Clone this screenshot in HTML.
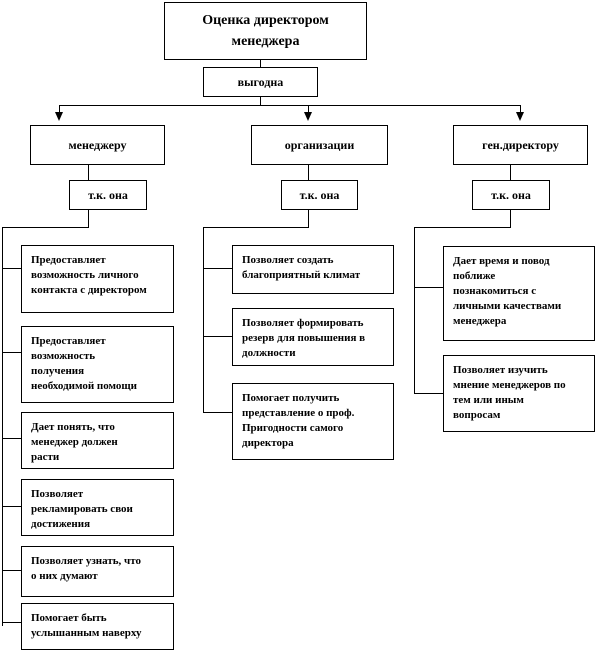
<!DOCTYPE html>
<html><head><meta charset="utf-8"><style>
body{margin:0;width:600px;height:654px;background:#fff;position:relative;overflow:hidden;font-family:"Liberation Serif","DejaVu Serif",serif;font-weight:bold;color:#000}
.b{position:absolute;border:1px solid #000;box-sizing:border-box;background:#fff}
.c{display:flex;align-items:center;justify-content:center;text-align:center}
.t{font-size:11px;line-height:15px;padding:7px 0 0 9px}
.h{position:absolute;background:#000;height:1px}
.v{position:absolute;background:#000;width:1px}
.a{position:absolute;width:0;height:0;border-left:4px solid transparent;border-right:4px solid transparent;border-top:9px solid #000}
</style></head><body>
<div class="b c" style="left:164px;top:2px;width:203px;height:58px;font-size:14px;line-height:21px">Оценка директором<br>менеджера</div>
<div class="v" style="left:260px;top:59px;height:8px"></div>
<div class="b c" style="left:203px;top:67px;width:115px;height:30px;font-size:12px">выгодна</div>
<div class="v" style="left:260px;top:96px;height:9px"></div>
<div class="h" style="left:59px;top:105px;width:462px"></div>
<div class="v" style="left:59px;top:105px;height:8px"></div>
<div class="v" style="left:308px;top:105px;height:8px"></div>
<div class="v" style="left:520px;top:105px;height:8px"></div>
<div class="a" style="left:55px;top:112px"></div>
<div class="a" style="left:304px;top:112px"></div>
<div class="a" style="left:516px;top:112px"></div>
<div class="b c" style="left:30px;top:125px;width:135px;height:40px;font-size:12px">менеджеру</div>
<div class="b c" style="left:251px;top:125px;width:137px;height:40px;font-size:12px">организации</div>
<div class="b c" style="left:453px;top:125px;width:135px;height:40px;font-size:12px">ген.директору</div>
<div class="v" style="left:88px;top:164px;height:16px"></div>
<div class="v" style="left:308px;top:164px;height:16px"></div>
<div class="v" style="left:510px;top:164px;height:16px"></div>
<div class="b c" style="left:69px;top:180px;width:78px;height:30px;font-size:12px">т.к. она</div>
<div class="b c" style="left:281px;top:180px;width:77px;height:30px;font-size:12px">т.к. она</div>
<div class="b c" style="left:472px;top:180px;width:78px;height:30px;font-size:12px">т.к. она</div>
<div class="v" style="left:88px;top:209px;height:18px"></div>
<div class="v" style="left:308px;top:209px;height:18px"></div>
<div class="v" style="left:510px;top:209px;height:18px"></div>
<div class="h" style="left:2px;top:227px;width:87px"></div>
<div class="h" style="left:203px;top:227px;width:106px"></div>
<div class="h" style="left:414px;top:227px;width:97px"></div>
<!-- left -->
<div class="v" style="left:2px;top:227px;height:399px"></div>
<div class="h" style="left:2px;top:268px;width:19px"></div>
<div class="h" style="left:2px;top:352px;width:19px"></div>
<div class="h" style="left:2px;top:438px;width:19px"></div>
<div class="h" style="left:2px;top:506px;width:19px"></div>
<div class="h" style="left:2px;top:570px;width:19px"></div>
<div class="h" style="left:2px;top:622px;width:19px"></div>
<div class="b t" style="left:21px;top:245px;width:153px;height:68px">Предоставляет<br>возможность личного<br>контакта с директором</div>
<div class="b t" style="left:21px;top:326px;width:153px;height:77px">Предоставляет<br>возможность<br>получения<br>необходимой помощи</div>
<div class="b t" style="left:21px;top:412px;width:153px;height:57px">Дает понять, что<br>менеджер должен<br>расти</div>
<div class="b t" style="left:21px;top:479px;width:153px;height:57px">Позволяет<br>рекламировать свои<br>достижения</div>
<div class="b t" style="left:21px;top:546px;width:153px;height:51px">Позволяет узнать, что<br>о них думают</div>
<div class="b t" style="left:21px;top:603px;width:153px;height:47px">Помогает быть<br>услышанным наверху</div>
<!-- middle -->
<div class="v" style="left:203px;top:227px;height:186px"></div>
<div class="h" style="left:203px;top:268px;width:29px"></div>
<div class="h" style="left:203px;top:336px;width:29px"></div>
<div class="h" style="left:203px;top:412px;width:29px"></div>
<div class="b t" style="left:232px;top:245px;width:162px;height:49px">Позволяет создать<br>благоприятный климат</div>
<div class="b t" style="left:232px;top:308px;width:162px;height:58px">Позволяет формировать<br>резерв для повышения в<br>должности</div>
<div class="b t" style="left:232px;top:383px;width:162px;height:77px">Помогает получить<br>представление о проф.<br>Пригодности самого<br>директора</div>
<!-- right -->
<div class="v" style="left:414px;top:227px;height:167px"></div>
<div class="h" style="left:414px;top:287px;width:29px"></div>
<div class="h" style="left:414px;top:393px;width:29px"></div>
<div class="b t" style="left:443px;top:246px;width:152px;height:95px">Дает время и повод<br>поближе<br>познакомиться с<br>личными качествами<br>менеджера</div>
<div class="b t" style="left:443px;top:355px;width:152px;height:77px">Позволяет изучить<br>мнение менеджеров по<br>тем или иным<br>вопросам</div>
</body></html>
